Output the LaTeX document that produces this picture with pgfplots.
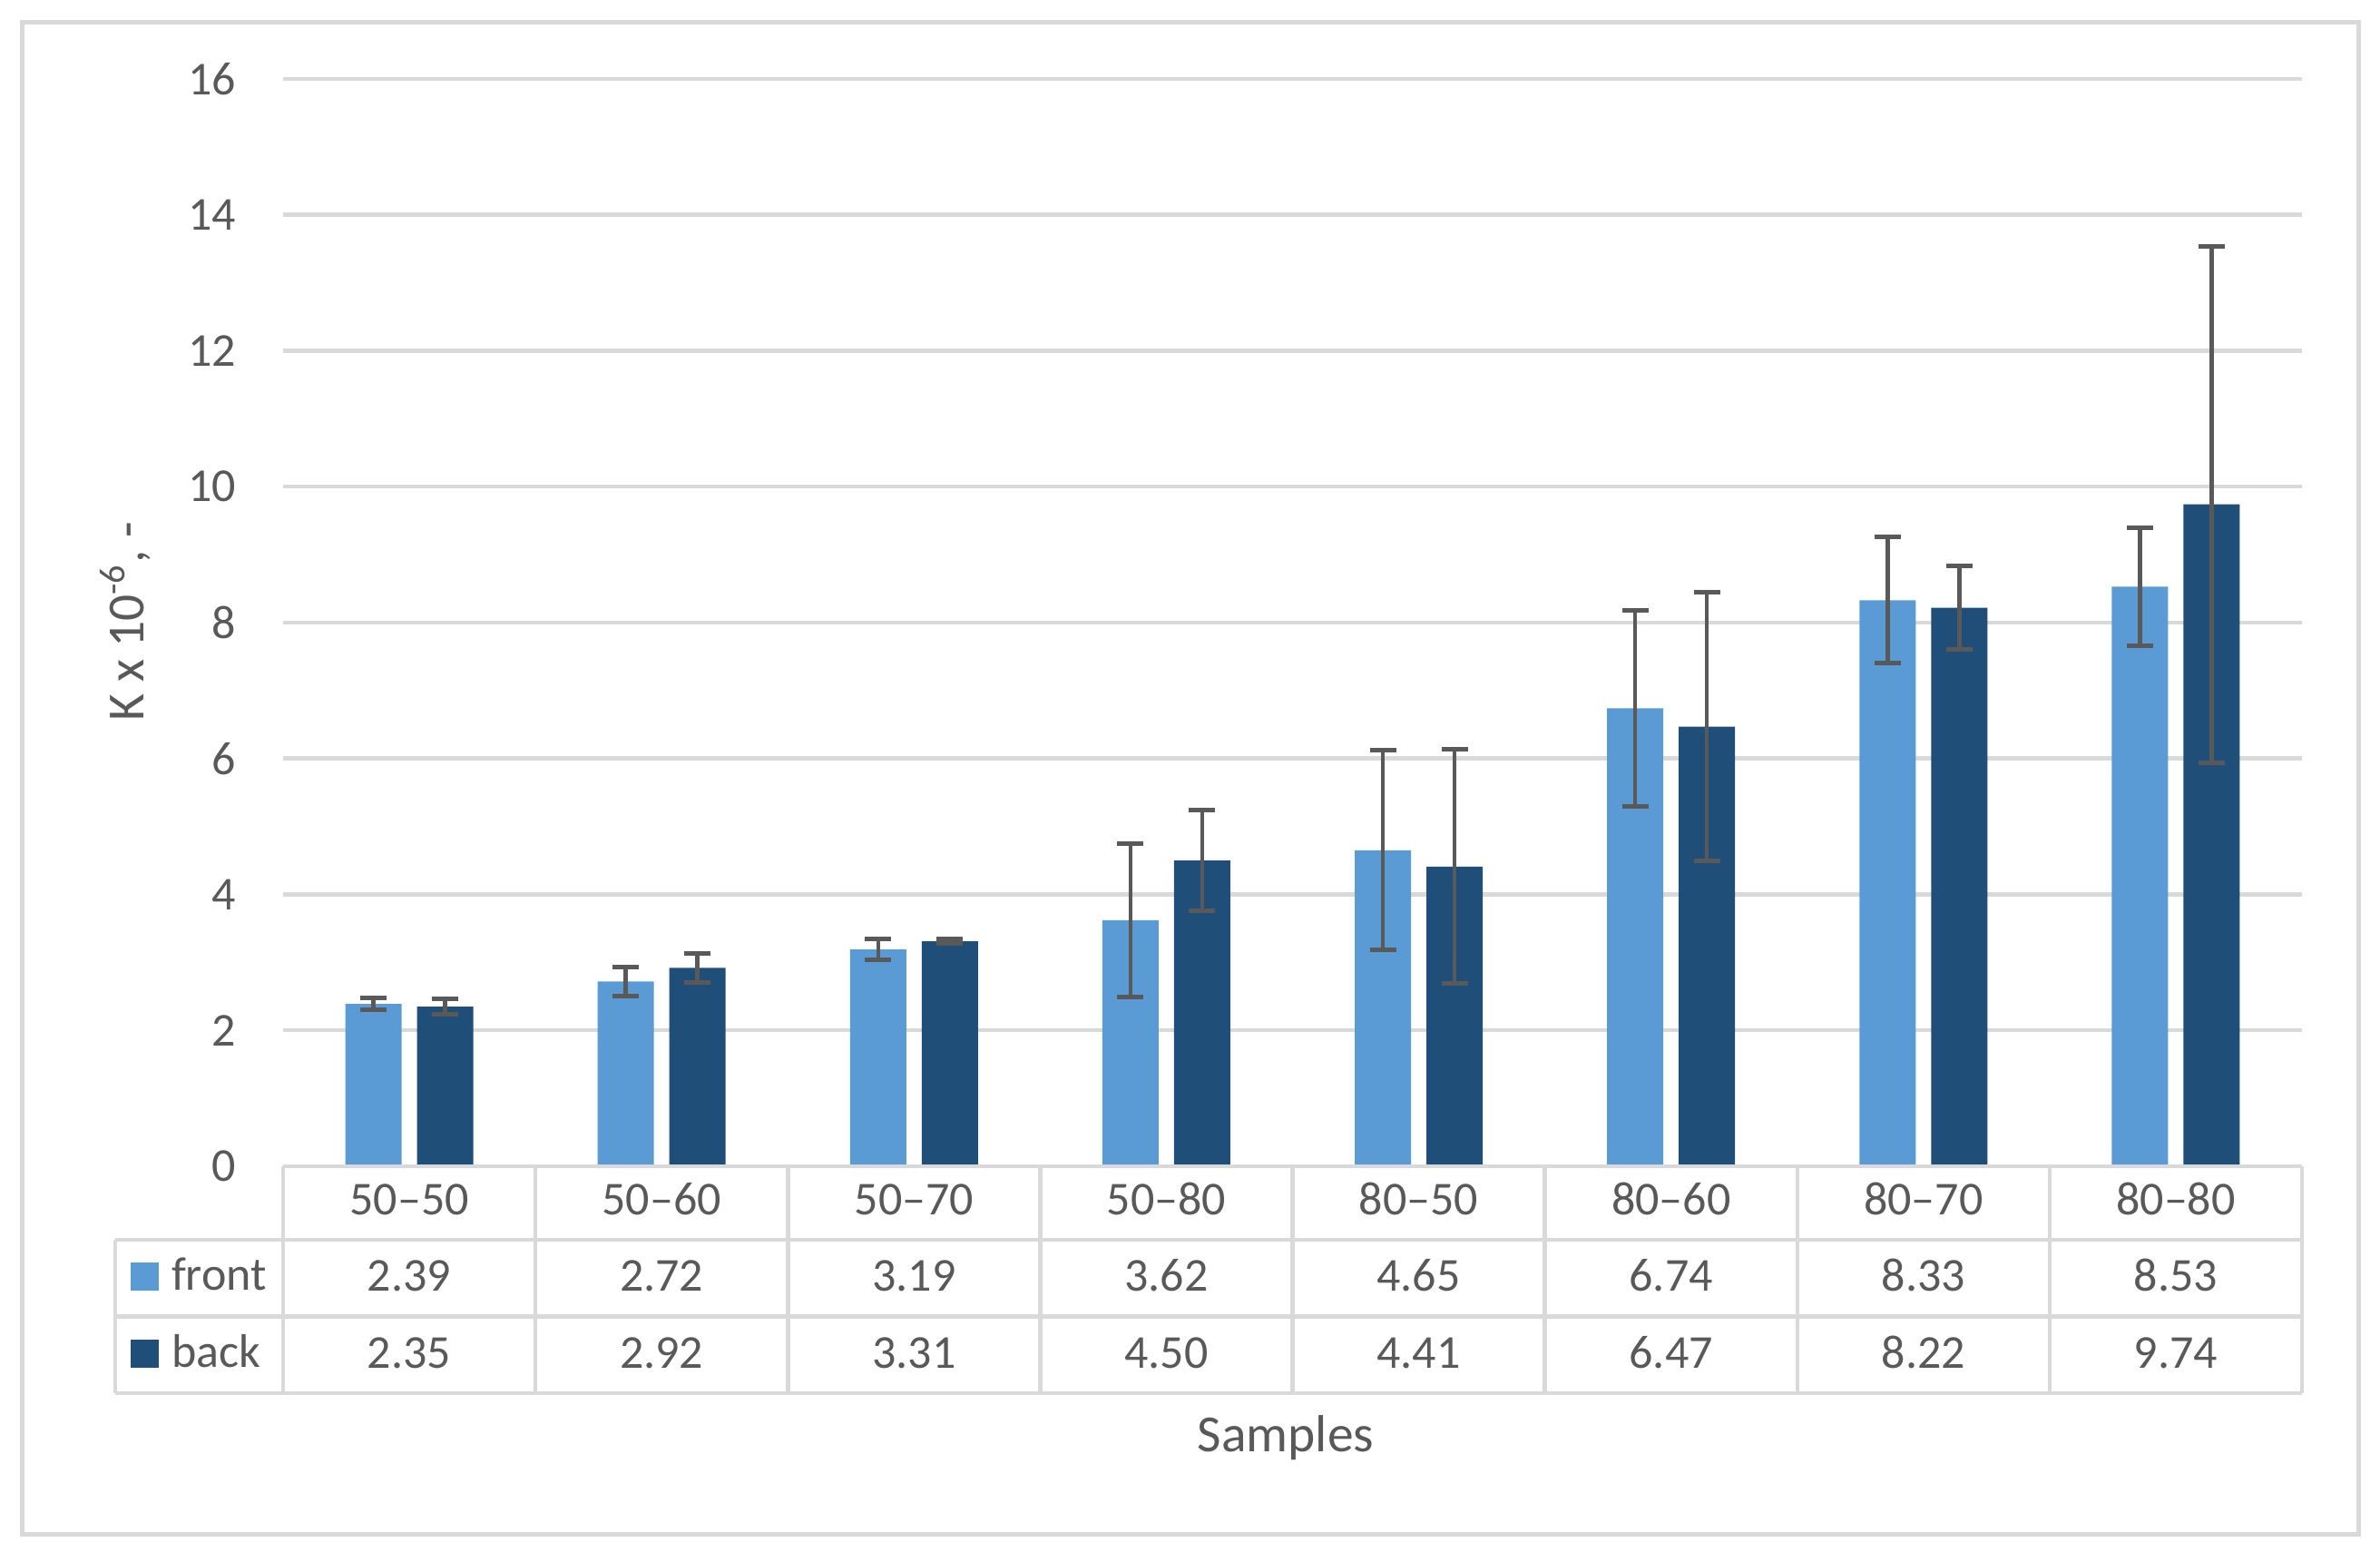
\documentclass[border=0pt]{standalone}
\usepackage{pgfplots}
\pgfplotsset{compat=1.18}
\usepackage{fontspec}
\setmainfont{Carlito}

\definecolor{front}{HTML}{5B9BD5}
\definecolor{back}{HTML}{1F4E79}
\definecolor{gridgray}{HTML}{D9D9D9}
\definecolor{txt}{HTML}{595959}
\newcommand\tabfont{\fontsize{10.4}{12}\selectfont}
\newcommand\titlefont{\fontsize{11.5}{13}\selectfont}

\begin{document}
\begin{tikzpicture}
\begin{axis}[
  at={(0,0)}, anchor=south west,
  scale only axis, width=445pt, height=239.6pt,
  ymin=0, ymax=16, ytick={0,2,...,16},
  xmin=-0.5, xmax=7.5, xtick=\empty,
  ybar=3.4pt, bar width=12.4pt,
  axis line style={draw=none},
  major tick length=0pt,
  ymajorgrids, grid style={gridgray, line width=0.9pt},
  yticklabel style={anchor=east, inner sep=0pt, xshift=-10.2pt, font=\tabfont, text=txt},
  /pgf/number format/assume math mode=true,
  clip=false,
  errstyle/.style={error bars/.cd, y dir=both, y explicit,
    error bar style={line width=0.9pt, draw=txt},
    error mark options={rotate=90, line width=1pt, mark size=2.9pt, draw=txt}},
]
% front
\addplot[fill=front, draw=none, errstyle]
  coordinates {
  (0,2.39) +- (0,0.09)
  (1,2.72) +- (0,0.21)
  (2,3.19) +- (0,0.15)
  (3,3.62) +- (0,1.13)
  (4,4.65) +- (0,1.47)
  (5,6.74) +- (0,1.44)
  (6,8.33) +- (0,0.93)
  (7,8.53) +- (0,0.87)
  };
% back
\addplot[fill=back, draw=none, errstyle]
  coordinates {
  (0,2.35) +- (0,0.11)
  (1,2.92) +- (0,0.21)
  (2,3.31) +- (0,0.03)
  (3,4.50) +- (0,0.74)
  (4,4.41) +- (0,1.72)
  (5,6.47) +- (0,1.98)
  (6,8.22) +- (0,0.61)
  (7,9.74) +- (0,3.80)
  };
\end{axis}

% data table under the plot
\begin{scope}[gridgray, line width=0.9pt]
  \draw (0,0) -- (445pt,0);
  \draw (-37pt,-16.2pt) -- (445pt,-16.2pt);
  \draw (-37pt,-33.1pt) -- (445pt,-33.1pt);
  \draw (-37pt,-50pt) -- (445pt,-50pt);
  \draw (-37pt,-16.2pt) -- (-37pt,-50pt);
  \foreach \k in {0,...,8} \draw ({\k*55.625pt},0) -- ({\k*55.625pt},-50pt);
\end{scope}

\foreach \c/\f/\b [count=\i from 0] in {50–50/2.39/2.35, 50–60/2.72/2.92,
    50–70/3.19/3.31, 50–80/3.62/4.50, 80–50/4.65/4.41, 80–60/6.74/6.47,
    80–70/8.33/8.22, 80–80/8.53/9.74} {
  \node[anchor=base, inner sep=0pt, font=\tabfont, text=txt] at ({(\i+0.5)*55.625pt},-10.8pt) {\c};
  \node[anchor=base, inner sep=0pt, font=\tabfont, text=txt] at ({(\i+0.5)*55.625pt},-27.6pt) {\f};
  \node[anchor=base, inner sep=0pt, font=\tabfont, text=txt] at ({(\i+0.5)*55.625pt},-44.6pt) {\b};
}

% legend keys
\fill[front] (-33.6pt,-27.45pt) rectangle (-27.3pt,-21.15pt);
\fill[back] (-33.6pt,-44.45pt) rectangle (-27.3pt,-38.15pt);
\node[anchor=base west, inner sep=0pt, font=\tabfont, text=txt] at (-24.8pt,-27.4pt) {front};
\node[anchor=base west, inner sep=0pt, font=\tabfont, text=txt] at (-24.8pt,-44.4pt) {back};

% axis titles
\node[rotate=90, font=\titlefont, text=txt] at (-34.8pt,120pt) {K x 10\textsuperscript{-6}, -};
\node[anchor=base, font=\titlefont, text=txt] at (221pt,-63pt) {Samples};

% chart frame and page size
\draw[gridgray, line width=1pt] (-57.4pt,-81.2pt) rectangle (457.4pt,252pt);
\path (-62.4pt,-87.2pt) rectangle (462.2pt,257pt);
\end{tikzpicture}
\end{document}
